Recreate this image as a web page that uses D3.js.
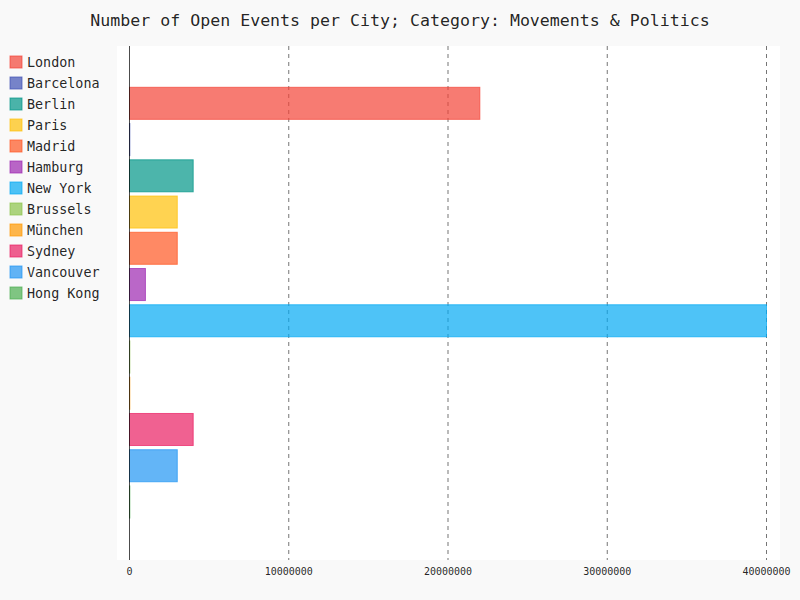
<!DOCTYPE html>
<html>
<head>
<meta charset="utf-8">
<script src="https://cdn.jsdelivr.net/npm/d3@7"></script>
<style>
  body { margin: 0; background: #f9f9f9; }
  text { font-family: "DejaVu Sans Mono", monospace; fill: rgba(0,0,0,0.87); }
</style>
</head>
<body>
<svg id="chart" width="800" height="600"></svg>
<script>
// Series (one value each)
const cities = ["London", "Barcelona", "Berlin", "Paris", "Madrid", "Hamburg",
  "New York", "Brussels", "München", "Sydney", "Vancouver", "Hong Kong"];
const events = [22000000, 20000, 4000000, 3000000, 3000000, 1000000,
  40000000, 20000, 20000, 4000000, 3000000, 20000];
const colors = ["#F44336", "#3F51B5", "#009688", "#FFC107", "#FF5722", "#9C27B0",
  "#03A9F4", "#8BC34A", "#FF9800", "#E91E63", "#2196F3", "#4CAF50"];
const xTicks = [0, 10000000, 20000000, 30000000, 40000000];

const svg = d3.select("#chart");

// plot background
const plot = { left: 117, right: 780, top: 46, bottom: 560 };
svg.append("rect")
  .attr("x", plot.left).attr("y", plot.top)
  .attr("width", plot.right - plot.left)
  .attr("height", plot.bottom - plot.top)
  .attr("fill", "#fff");

const x = d3.scaleLinear().domain([0, 40000000]).range([129.5, 766.5]);
const y = d3.scaleBand().domain(cities).range([85.2, 520.1])
  .paddingInner(0.116).paddingOuter(0.058);

// title
svg.append("text")
  .attr("x", 400).attr("y", 26)
  .attr("text-anchor", "middle")
  .style("font-size", "16.6px")
  .text("Number of Open Events per City; Category: Movements & Politics");

// guides
svg.append("g").selectAll("line")
  .data(xTicks.filter((d) => d > 0))
  .join("line")
  .attr("x1", (d) => x(d)).attr("x2", (d) => x(d))
  .attr("y1", plot.top).attr("y2", plot.bottom)
  .attr("stroke", "rgba(0,0,0,0.54)")
  .attr("stroke-dasharray", "4,4");

// tick labels
svg.append("g").selectAll("text")
  .data(xTicks)
  .join("text")
  .attr("x", (d) => x(d)).attr("y", 575)
  .attr("text-anchor", "middle")
  .style("font-size", "10px")
  .text((d) => d);

// bars
svg.append("g").selectAll("rect")
  .data(cities)
  .join("rect")
  .attr("x", x(0))
  .attr("y", (d) => y(d))
  .attr("width", (d, i) => x(events[i]) - x(0))
  .attr("height", y.bandwidth())
  .attr("fill", (d, i) => colors[i])
  .attr("fill-opacity", 0.7)
  .attr("stroke", (d, i) => colors[i])
  .attr("stroke-opacity", 0.7)
  .attr("stroke-width", 1);

// zero axis line
svg.append("line")
  .attr("x1", x(0)).attr("x2", x(0))
  .attr("y1", plot.top).attr("y2", plot.bottom)
  .attr("stroke", "rgba(0,0,0,0.7)")
  .attr("stroke-width", 1);

// legend
const legend = svg.append("g").selectAll("g")
  .data(cities)
  .join("g")
  .attr("transform", (d, i) => `translate(10,${56 + i * 21})`);

legend.append("rect")
  .attr("width", 12).attr("height", 12)
  .attr("fill", (d, i) => colors[i])
  .attr("fill-opacity", 0.7)
  .attr("stroke", (d, i) => colors[i])
  .attr("stroke-opacity", 0.7);

legend.append("text")
  .attr("x", 17).attr("y", 11)
  .style("font-size", "13.4px")
  .text((d) => d);
</script>
</body>
</html>
